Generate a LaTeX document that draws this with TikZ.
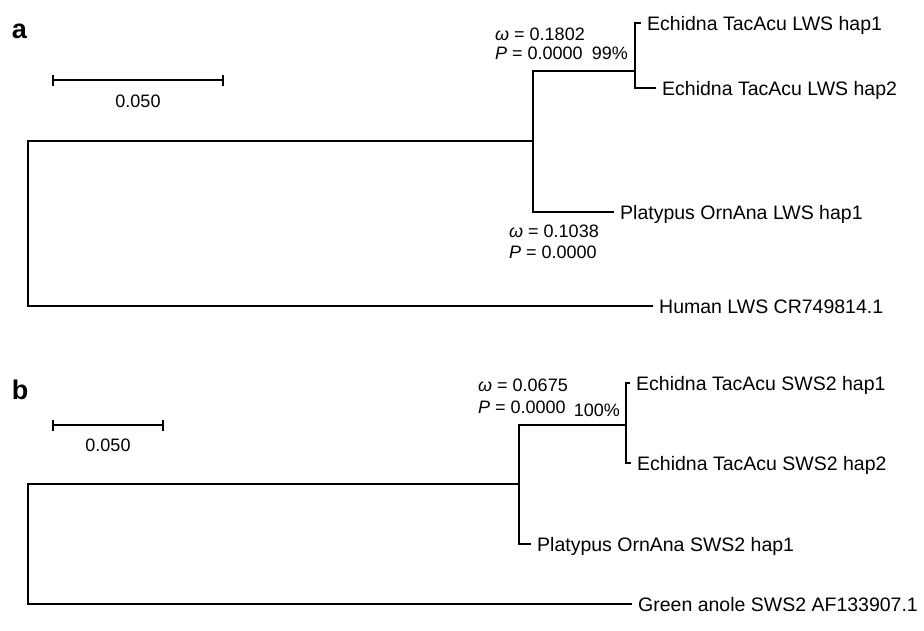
\documentclass[tikz,border=0pt]{standalone}
\usepackage{fontspec}
\setmainfont{Liberation Sans}
\usetikzlibrary{arrows.meta}
\newcommand{\taxfont}{\fontsize{19.5}{22}\selectfont}
\newcommand{\annfont}{\fontsize{18}{21}\selectfont}
\tikzset{
  taxon/.style={font=\taxfont, anchor=west, inner xsep=7pt, inner ysep=0pt, text height=14pt, text depth=0pt},
  ann/.style={font=\annfont, inner sep=0pt, text height=13pt, text depth=0pt},
  branch/.style={line width=2pt, line join=miter, line cap=rect},
  scalebar/.style={line width=2pt, {Bar[width=11pt,line width=1.8pt]}-{Bar[width=11pt,line width=1.8pt]}},
  panel/.style={font=\fontsize{27}{30}\selectfont\bfseries, inner sep=0pt},
}
\begin{document}
\begin{tikzpicture}[x=1pt,y=-1pt]
\useasboundingbox (0,0) rectangle (924,630);
% ---------------- panel a ----------------
\node[panel] (la) at (19.5,31) {a};
\coordinate (sa1) at (52,80);
\coordinate (sa2) at (224,80);
\draw[scalebar] (sa1) -- (sa2);
\node[ann] (sla) at (138,101) {0.050};

\coordinate (ra) at (28,141);
\coordinate (a1) at (533,141);
\coordinate (a2) at (635,71);
\node[taxon] (h1a) at (640,23) {Echidna TacAcu LWS hap1};
\node[taxon] (h2a) at (655,88) {Echidna TacAcu LWS hap2};
\node[taxon] (pa) at (613,212) {Platypus OrnAna LWS hap1};
\node[taxon] (hu) at (652,306) {Human LWS CR749814.1};

\draw[branch] (h1a.west) -| (a2) |- (h2a.west);
\draw[branch] (a2) -| (a1) |- (pa.west);
\draw[branch] (a1) -- (ra) |- (hu.west);

\node[ann, anchor=west] (wa1) at (495,34) {{\itshape ω} = 0.1802};
\node[ann, anchor=west] (pa1) at (495,53) {{\itshape P} = 0.0000};
\node[ann, anchor=east] (bsa) at (628,53) {99\%};
\node[ann, anchor=west] (wa2) at (509,231) {{\itshape ω} = 0.1038};
\node[ann, anchor=west] (pa2) at (509,252) {{\itshape P} = 0.0000};

% ---------------- panel b ----------------
\node[panel] (lb) at (20,390) {b};
\coordinate (sb1) at (52,425);
\coordinate (sb2) at (164,425);
\draw[scalebar] (sb1) -- (sb2);
\node[ann] (slb) at (108,445) {0.050};

\coordinate (rb) at (28,484);
\coordinate (b1) at (519,484);
\coordinate (b2) at (626,425);
\node[taxon] (h1b) at (629,383) {Echidna TacAcu SWS2 hap1};
\node[taxon] (h2b) at (630,463) {Echidna TacAcu SWS2 hap2};
\node[taxon] (pb) at (530,544) {Platypus OrnAna SWS2 hap1};
\node[taxon] (ga) at (631,604) {Green anole SWS2 AF133907.1};

\draw[branch] (h1b.west) -| (b2) |- (h2b.west);
\draw[branch] (b2) -| (b1) |- (pb.west);
\draw[branch] (b1) -- (rb) |- (ga.west);

\node[ann, anchor=west] (wb1) at (478,385) {{\itshape ω} = 0.0675};
\node[ann, anchor=west] (pb1) at (478,407) {{\itshape P} = 0.0000};
\node[ann, anchor=east] (bsb) at (620,410) {100\%};
\end{tikzpicture}
\end{document}
